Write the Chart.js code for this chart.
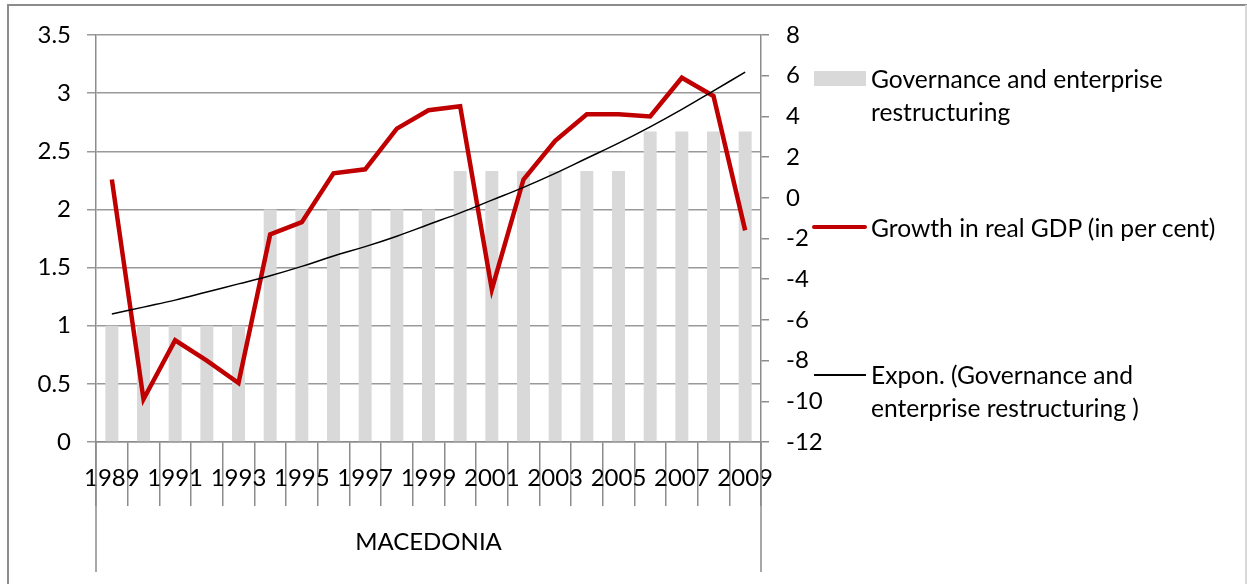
<!DOCTYPE html>
<html>
<head>
<meta charset="utf-8">
<script src="https://cdn.jsdelivr.net/npm/chart.js@4"></script>
<style>
    body { margin: 0; background: #fff; }
    #wrap { position: relative; width: 1247px; height: 584px; font-family: Lato, sans-serif; }
    .leg { position: absolute; left: 871px; font-size: 24.6px; line-height: 33px; color: #000; white-space: nowrap; }
    .key { position: absolute; }
</style>
</head>
<body>
<div id="wrap">
    <canvas id="mainChart" width="1247" height="584"></canvas>
    <div class="key" style="left:814px; top:71px; width:52px; height:15px; background:#d9d9d9;"></div>
    <div class="leg" style="top:62px;">Governance and enterprise<br>restructuring</div>
    <div class="key" style="left:812px; top:225px; width:55px; height:4px; background:#c00000; border-radius:2px;"></div>
    <div class="leg" style="top:211px;">Growth in real GDP (in per cent)</div>
    <div class="key" style="left:814px; top:374px; width:52px; height:1.5px; background:#000;"></div>
    <div class="leg" style="top:358px;">Expon. (Governance and<br>enterprise restructuring )</div>
</div>
<script>
// Data
const years = ['1989', '1990', '1991', '1992', '1993', '1994', '1995', '1996', '1997', '1998', '1999',
    '2000', '2001', '2002', '2003', '2004', '2005', '2006', '2007', '2008', '2009'];
const governance = [1, 1, 1, 1, 1, 2, 2, 2, 2, 2, 2,
    2.33, 2.33, 2.33, 2.33, 2.33, 2.33, 2.67, 2.67, 2.67, 2.67];
const gdpGrowth = [0.9, -9.9, -7.0, -8.0, -9.1, -1.8, -1.2, 1.2, 1.4, 3.4, 4.3,
    4.5, -4.5, 0.9, 2.8, 4.1, 4.1, 4.0, 5.9, 5.0, -1.6];
const governanceTrend = [1.10, 1.16, 1.22, 1.29, 1.36, 1.43, 1.51, 1.60, 1.68, 1.77, 1.87,
    1.97, 2.08, 2.19, 2.31, 2.44, 2.57, 2.71, 2.86, 3.02, 3.18];
const groupLabel = 'MACEDONIA';

const axisGray = '#8c8c8c';
const tickFont = { family: 'Lato', size: 24 };

// Outer frame plus the long group lines of the two-level category axis
const framePlugin = {
    id: 'frame',
    afterDraw(chart) {
        const ctx = chart.ctx;
        const area = chart.chartArea;
        ctx.save();
        ctx.strokeStyle = axisGray;
        ctx.lineWidth = 2;
        ctx.beginPath();
        ctx.moveTo(8, 584);
        ctx.lineTo(8, 5);
        ctx.lineTo(1247, 5);
        ctx.stroke();
        ctx.strokeStyle = '#d9d9d9';
        ctx.beginPath();
        ctx.moveTo(1246, 5);
        ctx.lineTo(1246, 584);
        ctx.stroke();
        ctx.strokeStyle = axisGray;
        ctx.lineWidth = 1.5;
        ctx.beginPath();
        ctx.moveTo(area.left, area.bottom);
        ctx.lineTo(area.left, 572);
        ctx.moveTo(area.right, area.bottom);
        ctx.lineTo(area.right, 572);
        ctx.stroke();
        ctx.restore();
    }
};

const mainCtx = document.getElementById('mainChart').getContext('2d');
const mainChart = new Chart(mainCtx, {
    data: {
        labels: years,
        datasets: [
            {
                type: 'line',
                label: 'Expon. (Governance and enterprise restructuring )',
                data: governanceTrend,
                yAxisID: 'y',
                borderColor: '#000',
                borderWidth: 1.5,
                pointRadius: 0,
                tension: 0.4,
                order: 0
            },
            {
                type: 'line',
                label: 'Growth in real GDP (in per cent)',
                data: gdpGrowth,
                yAxisID: 'y2',
                borderColor: '#c00000',
                borderWidth: 4.5,
                pointRadius: 0,
                tension: 0,
                order: 1
            },
            {
                type: 'bar',
                label: 'Governance and enterprise restructuring',
                data: governance,
                yAxisID: 'y',
                backgroundColor: '#d9d9d9',
                barPercentage: 0.41,
                categoryPercentage: 1,
                order: 2
            }
        ]
    },
    options: {
        responsive: false,
        animation: false,
        devicePixelRatio: 1,
        layout: { padding: { top: 35 } },
        plugins: {
            legend: { display: false },
            tooltip: { enabled: false }
        },
        scales: {
            x: {
                offset: true,
                grid: {
                    offset: true,
                    drawOnChartArea: false,
                    color: axisGray,
                    lineWidth: 1.5,
                    tickLength: 64
                },
                border: { color: axisGray, width: 1.5 },
                ticks: {
                    autoSkip: false,
                    maxRotation: 0,
                    padding: -42,
                    color: '#000',
                    font: tickFont,
                    callback: function (val, i) {
                        return i % 2 === 0 ? this.getLabelForValue(val) : '';
                    }
                },
                title: {
                    display: true,
                    text: groupLabel,
                    color: '#000',
                    font: tickFont,
                    padding: { top: 0, bottom: 27 }
                },
                afterFit: function (scale) { scale.height = 142; }
            },
            y: {
                position: 'left',
                min: 0,
                max: 3.5,
                grid: { color: '#999', lineWidth: 1.5, tickLength: 9 },
                border: { color: axisGray, width: 1.5 },
                ticks: {
                    stepSize: 0.5,
                    padding: 16,
                    color: '#000',
                    font: tickFont,
                    callback: function (val) { return String(val); }
                },
                afterFit: function (scale) { scale.width = 96; }
            },
            y2: {
                position: 'right',
                min: -12,
                max: 8,
                grid: { drawOnChartArea: false, color: axisGray, lineWidth: 1.5, tickLength: 8 },
                border: { color: axisGray, width: 1.5 },
                ticks: { stepSize: 2, padding: 17, color: '#000', font: tickFont },
                afterFit: function (scale) { scale.width = 486; }
            }
        }
    },
    plugins: [framePlugin]
});
</script>
</body>
</html>
